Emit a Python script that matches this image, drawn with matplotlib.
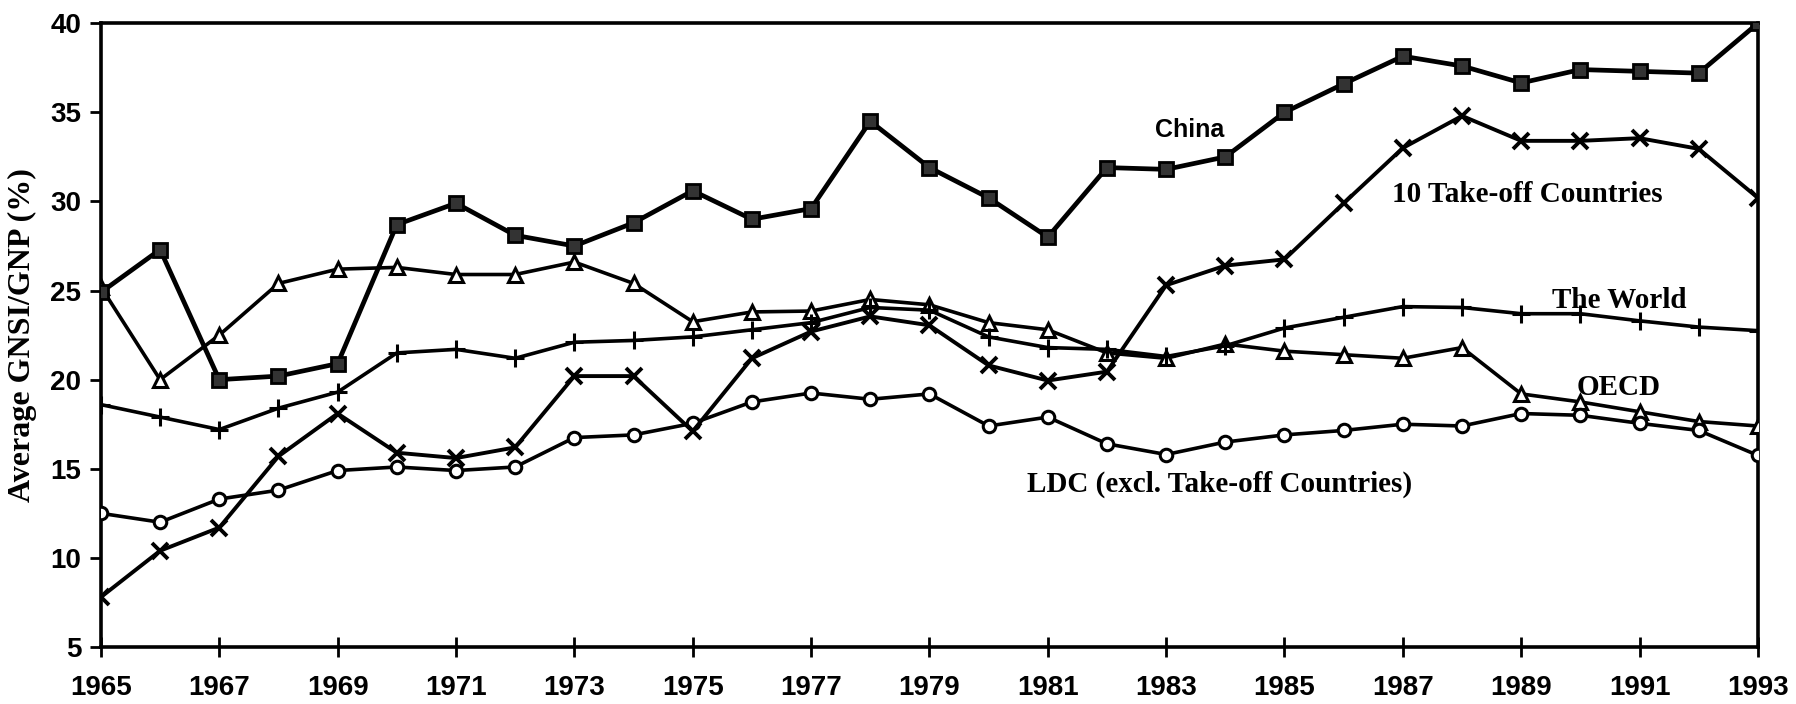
import matplotlib
matplotlib.use("Agg")
import matplotlib.pyplot as plt

years = list(range(1965, 1994))

china = [24.9, 27.3, 20.0, 20.2, 20.9, 28.7, 29.9, 28.1, 27.5, 28.8,
         30.6, 29.0, 29.6, 34.5, 31.9, 30.2, 28.0, 31.9, 31.8, 32.5,
         35.0, 36.6, 38.15, 37.6, 36.65, 37.4, 37.3, 37.2, 40.0]
takeoff = [7.8, 10.4, 11.7, 15.7, 18.1, 15.9, 15.6, 16.2, 20.2, 20.2,
           17.1, 21.2, 22.7, 23.55, 23.05, 20.8, 19.95, 20.45, 25.3, 26.4,
           26.75, 29.9, 33.0, 34.8, 33.4, 33.4, 33.55, 32.95, 30.2]
world = [18.6, 17.9, 17.2, 18.4, 19.3, 21.5, 21.7, 21.2, 22.1, 22.2,
         22.4, 22.8, 23.2, 24.05, 23.9, 22.4, 21.8, 21.7, 21.3, 21.9,
         22.9, 23.5, 24.1, 24.05, 23.7, 23.7, 23.3, 22.95, 22.75]
oecd = [25.2, 20.0, 22.5, 25.4, 26.2, 26.3, 25.9, 25.9, 26.6, 25.4,
        23.25, 23.8, 23.85, 24.5, 24.2, 23.2, 22.8, 21.5, 21.2, 22.0,
        21.6, 21.4, 21.2, 21.8, 19.2, 18.75, 18.2, 17.65, 17.4]
ldc = [12.5, 12.0, 13.3, 13.8, 14.9, 15.1, 14.9, 15.1, 16.75, 16.9,
       17.55, 18.75, 19.25, 18.9, 19.2, 17.4, 17.9, 16.4, 15.8, 16.5,
       16.9, 17.15, 17.5, 17.4, 18.1, 18.0, 17.55, 17.15, 15.75]

xtick_years = list(range(1965, 1994, 2))
yticks = list(range(5, 41, 5))

fig = plt.figure(figsize=(17.96, 7.04), dpi=100)
ax = fig.add_axes([0.0562, 0.081, 0.9226, 0.886])

ax.plot(years, oecd, color="black", lw=2.6, marker="^", ms=10,
        mfc="white", mec="black", mew=2.2, zorder=3)
ax.plot(years, world, color="black", lw=2.6, marker="+", ms=13,
        mew=2.2, zorder=3)
ax.plot(years, ldc, color="black", lw=2.6, marker="o", ms=9,
        mfc="white", mec="black", mew=2.2, zorder=3)
ax.plot(years, takeoff, color="black", lw=2.8, marker="x", ms=11,
        mew=2.8, zorder=4)
ax.plot(years, china, color="black", lw=3.4, marker="s", ms=10,
        mfc="#333333", mec="black", mew=2, zorder=5)

ax.set_xlim(1965, 1993)
ax.set_ylim(5, 40)
ax.set_xticks(xtick_years)
ax.set_yticks(yticks)

for lab in ax.get_xticklabels() + ax.get_yticklabels():
    lab.set_fontfamily("Liberation Sans")
    lab.set_fontweight("bold")
    lab.set_fontsize(20)
ax.tick_params(axis="x", direction="inout", length=14, width=2, pad=13)
ax.tick_params(axis="y", direction="out", length=8, width=2, pad=6)

for sp in ax.spines.values():
    sp.set_linewidth(2.6)

ax.set_ylabel("Average GNSI/GNP (%)", fontfamily="Liberation Serif",
              fontweight="bold", fontsize=23, labelpad=10)

serif = dict(fontfamily="Liberation Serif", fontweight="bold", fontsize=21,
             ha="center", va="center")
ax.text(1983.4, 34.0, "China", fontfamily="Liberation Sans",
        fontweight="bold", fontsize=18, ha="center", va="center")
ax.text(1989.1, 30.4, "10 Take-off Countries", **serif)
ax.text(1990.65, 24.45, "The World", **serif)
ax.text(1990.65, 19.55, "OECD", **serif)
ax.text(1983.9, 14.1, "LDC (excl. Take-off Countries)", **serif)

fig.savefig("out.png", dpi=100)
